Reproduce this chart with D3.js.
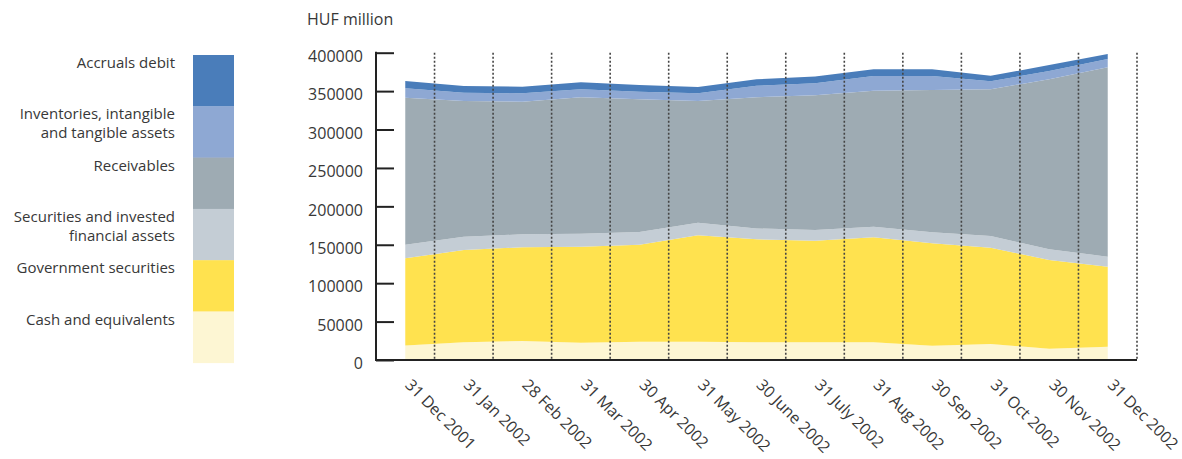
<!DOCTYPE html>
<html><head><meta charset="utf-8">
<script src="https://cdn.jsdelivr.net/npm/d3@7"></script>
<style>
html,body{margin:0;padding:0;background:#fff;}
svg text{font-family:"Open Sans",sans-serif;fill:#383838;}
</style></head>
<body><svg id="c" width="1182" height="459"></svg>
<script>
const dates = ["31 Dec 2001","31 Jan 2002","28 Feb 2002","31 Mar 2002","30 Apr 2002","31 May 2002","30 June 2002","31 July 2002","31 Aug 2002","30 Sep 2002","31 Oct 2002","30 Nov 2002","31 Dec 2002"];
const seriesNames = ["Cash and equivalents","Government securities","Securities and invested financial assets","Receivables","Inventories, intangible and tangible assets","Accruals debit"];
const cash = [19000,23000,24700,22500,23900,23900,23000,23000,23000,18700,20800,14800,17400];
const govSec = [113400,120200,122000,125000,126200,138400,134100,132300,136700,133200,125400,115400,104000];
const securities = [17700,17300,16900,16900,16500,16400,14100,13900,13800,14300,15200,13900,13100];
const receivables = [191300,176600,172600,177600,172700,158400,170800,175300,177000,185200,191000,221300,246500];
const inventories = [12300,10900,11000,10400,9900,10100,15000,15700,19200,18300,10300,10800,10800];
const accruals = [9500,8700,8500,9100,8800,8200,8400,8800,8700,8700,7200,7800,6500];
const yTicks = [0,50000,100000,150000,200000,250000,300000,350000,400000];
const unitLabel = "HUF million";
const legendLabels = [["Accruals debit"],["Inventories, intangible","and tangible assets"],["Receivables"],["Securities and invested","financial assets"],["Government securities"],["Cash and equivalents"]];
const colors = ["#fdf6d3","#ffe24f","#c4cdd5","#9eabb3","#8ea8d3","#4a7dba"];

const svg = d3.select("#c");
const x = d3.scaleBand().domain(dates).range([376,1137]);
const y = d3.scaleLinear().domain([0,400000]).range([360,52.7]);
const cx = d => x(d) + x.bandwidth()/2;

const table = dates.map((d,i)=>({date:d,s0:cash[i],s1:govSec[i],s2:securities[i],s3:receivables[i],s4:inventories[i],s5:accruals[i]}));
const keys = ["s0","s1","s2","s3","s4","s5"];
const stack = d3.stack().keys(keys)(table);
const area = d3.area().x(d=>cx(d.data.date)).y0(d=>y(d[0])).y1(d=>y(d[1]));

svg.append("g").selectAll("path").data(stack).join("path")
  .attr("d",area).attr("fill",(d,i)=>colors[i]);

// dotted separators at band edges
svg.append("g").selectAll("line").data(dates).join("line")
  .attr("x1",d=>x(d)+x.bandwidth()).attr("x2",d=>x(d)+x.bandwidth())
  .attr("y1",y(400000)).attr("y2",y(0))
  .attr("stroke","#444").attr("stroke-width",1.6).attr("stroke-dasharray","2,2");

// y axis
const yAxis = d3.axisRight(y).tickValues(yTicks).tickSize(18).tickFormat("");
const ga = svg.append("g").attr("transform","translate(376,0)").call(yAxis);
ga.select(".domain").remove();
ga.selectAll("line").attr("stroke","#222").attr("stroke-width",2);
svg.append("g").selectAll("text").data(yTicks).join("text")
  .attr("x",363).attr("y",d=>y(d)+5).attr("text-anchor","end").attr("dominant-baseline","middle")
  .style("font-size","16px").text(d=>d);
svg.append("line").attr("x1",376).attr("x2",376).attr("y1",y(400000)-1).attr("y2",y(0)+1).attr("stroke","#222").attr("stroke-width",2);
svg.append("line").attr("x1",375).attr("x2",1137).attr("y1",y(0)).attr("y2",y(0)).attr("stroke","#222").attr("stroke-width",2);

svg.append("text").attr("x",307).attr("y",21).attr("dominant-baseline","middle").style("font-size","16px").text(unitLabel);

// x labels
svg.append("g").selectAll("text").data(dates).join("text")
  .attr("transform",d=>`translate(${cx(d)-1},386) rotate(45)`)
  .attr("text-anchor","start").style("font-size","16px").text(d=>d);

// legend
const lg = svg.append("g");
legendLabels.forEach((lines,i)=>{
  const top = 55 + i*51.3;
  lg.append("rect").attr("x",193).attr("y",top).attr("width",41).attr("height",51.6).attr("fill",colors[5-i]);
  lines.forEach((t,j)=>{
    lg.append("text").attr("x",175).attr("y",top+9+j*19).attr("text-anchor","end")
      .attr("dominant-baseline","middle").style("font-size","15px").text(t);
  });
});
</script></body></html>
